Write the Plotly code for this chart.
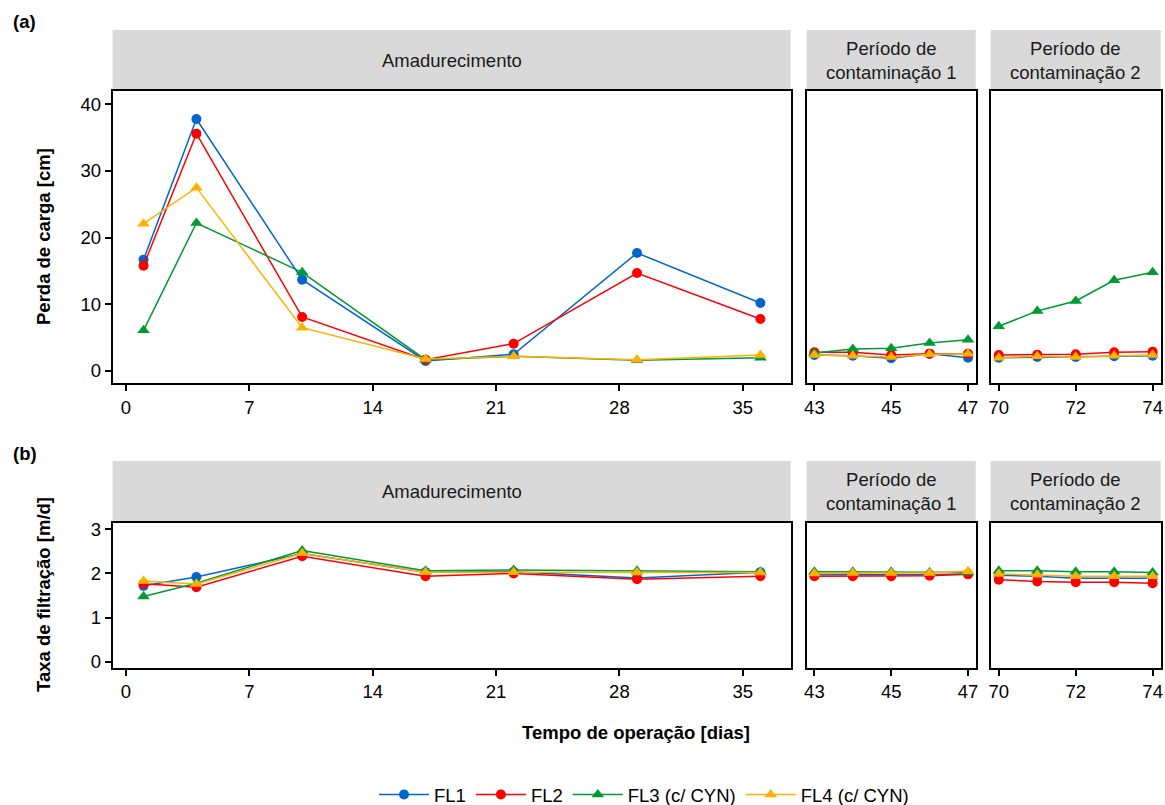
import plotly.graph_objects as go

# Operating days per period
days = [1, 4, 10, 17, 22, 29, 36, 43, 44, 45, 46, 47, 70, 71, 72, 73, 74]

# (a) Head loss [cm]
hl_fl1 = [16.7, 37.8, 13.7, 1.5, 2.5, 17.7, 10.2, 2.4, 2.3, 1.9, 2.6, 2.0, 2.0, 2.1, 2.1, 2.2, 2.3]
hl_fl2 = [15.8, 35.6, 8.1, 1.7, 4.1, 14.7, 7.8, 2.8, 2.8, 2.4, 2.6, 2.6, 2.4, 2.45, 2.5, 2.8, 2.9]
hl_fl3 = [6.1, 22.2, 14.8, 1.7, 2.2, 1.6, 2.0, 2.7, 3.3, 3.4, 4.2, 4.7, 6.7, 9.0, 10.5, 13.6, 14.8]
hl_fl4 = [22.1, 27.5, 6.5, 1.8, 2.2, 1.7, 2.4, 2.4, 2.3, 2.1, 2.5, 2.6, 2.0, 2.2, 2.1, 2.3, 2.4]

# (b) Filtration rate [m/d]
fr_fl1 = [1.72, 1.92, 2.45, 2.03, 2.04, 1.90, 2.03, 1.97, 1.97, 1.97, 1.97, 1.99, 1.96, 1.94, 1.89, 1.89, 1.89]
fr_fl2 = [1.77, 1.69, 2.39, 1.94, 2.00, 1.87, 1.94, 1.94, 1.94, 1.94, 1.95, 1.98, 1.86, 1.82, 1.80, 1.80, 1.78]
fr_fl3 = [1.48, 1.78, 2.52, 2.06, 2.08, 2.06, 2.04, 2.04, 2.04, 2.04, 2.03, 2.02, 2.06, 2.06, 2.04, 2.04, 2.02]
fr_fl4 = [1.83, 1.76, 2.46, 2.03, 2.03, 2.02, 2.02, 2.00, 2.01, 2.01, 2.01, 2.05, 1.99, 1.97, 1.94, 1.94, 1.94]

series_names = ["FL1", "FL2", "FL3 (c/ CYN)", "FL4 (c/ CYN)"]
series_colors = ["#0066CC", "#FF0000", "#009933", "#FFB000"]
series_symbols = ["circle", "circle", "triangle-up", "triangle-up"]

period_labels = ["Amadurecimento", "Período de<br>contaminação 1", "Período de<br>contaminação 2"]
period_bounds = [(0, 40), (40, 60), (60, 80)]
x_ranges = [[-0.75, 37.72], [42.8, 47.2], [69.79, 74.21]]
x_ticks = [[0, 7, 14, 21, 28, 35], [43, 45, 47], [70, 72, 74]]

W, H = 1165, 805


def px_x(p):
    return p / W


def px_y(p):
    return 1 - p / H


# pixel geometry of panels
col_px = [(112.7, 790.7), (806.7, 975.7), (990.7, 1160.7)]
row_px = [(91, 383.3), (522.7, 668)]
strip_px = [(30, 91), (461, 522.7)]
y_ranges = [[-1.85, 42], [-0.14, 3.15]]
y_ticks = [[0, 10, 20, 30, 40], [0, 1, 2, 3]]

FONT = "Liberation Sans, Arial, sans-serif"
FS = 18.5
fig = go.Figure()

rows_data = [[hl_fl1, hl_fl2, hl_fl3, hl_fl4], [fr_fl1, fr_fl2, fr_fl3, fr_fl4]]
layout = {}
shapes = []
annotations = []

for r in range(2):
    for c in range(3):
        idx = r * 3 + c + 1
        suffix = "" if idx == 1 else str(idx)
        lo, hi = period_bounds[c]
        sel = [i for i, d in enumerate(days) if lo <= d < hi]
        for s in range(4):
            vals = rows_data[r][s]
            fig.add_trace(go.Scatter(
                x=[days[i] for i in sel],
                y=[vals[i] for i in sel],
                mode="lines+markers",
                name=series_names[s],
                legendgroup=series_names[s],
                showlegend=(idx == 1),
                line=dict(color=series_colors[s], width=1.5),
                marker=dict(symbol=series_symbols[s], color=series_colors[s],
                            size=10 if s < 2 else 11),
                xaxis="x" + suffix, yaxis="y" + suffix,
            ))
        x0, x1 = col_px[c]
        y0, y1 = row_px[r]
        layout["xaxis" + suffix] = dict(
            domain=[px_x(x0), px_x(x1)], anchor="y" + suffix, range=x_ranges[c],
            tickvals=x_ticks[c], ticks="outside", ticklen=6, tickwidth=1.5,
            tickcolor="black", showline=True, linewidth=2, linecolor="black",
            mirror=True, showgrid=False, zeroline=False, automargin=False,
            tickfont=dict(size=FS, color="black", family=FONT),
        )
        layout["yaxis" + suffix] = dict(
            domain=[px_y(y1), px_y(y0)], anchor="x" + suffix, range=y_ranges[r],
            tickvals=y_ticks[r], ticks="outside" if c == 0 else "", ticklen=6,
            tickwidth=1.5, tickcolor="black", showticklabels=(c == 0),
            showline=True, linewidth=2, linecolor="black", mirror=True,
            showgrid=False, zeroline=False, automargin=False,
            tickfont=dict(size=FS, color="black", family=FONT),
        )
        # gray strip with period label
        s0, s1 = strip_px[r]
        shapes.append(dict(type="rect", xref="paper", yref="paper",
                           x0=px_x(x0), x1=px_x(x1), y0=px_y(s1), y1=px_y(s0),
                           fillcolor="#D9D9D9", line=dict(width=0), layer="below"))
        annotations.append(dict(text=period_labels[c], xref="paper", yref="paper",
                                x=px_x((x0 + x1) / 2), y=px_y((s0 + s1) / 2),
                                showarrow=False, xanchor="center", yanchor="middle",
                                font=dict(size=FS, color="#1A1A1A", family=FONT)))

annotations += [
    dict(text="<b>(a)</b>", xref="paper", yref="paper", x=px_x(11), y=px_y(22),
         xanchor="left", yanchor="middle", showarrow=False,
         font=dict(size=FS, color="black", family=FONT)),
    dict(text="<b>(b)</b>", xref="paper", yref="paper", x=px_x(11), y=px_y(453),
         xanchor="left", yanchor="middle", showarrow=False,
         font=dict(size=FS, color="black", family=FONT)),
    dict(text="<b>Perda de carga [cm]</b>", xref="paper", yref="paper",
         x=px_x(43), y=px_y(237), textangle=-90, showarrow=False,
         xanchor="center", yanchor="middle",
         font=dict(size=FS, color="black", family=FONT)),
    dict(text="<b>Taxa de filtração [m/d]</b>", xref="paper", yref="paper",
         x=px_x(43), y=px_y(595), textangle=-90, showarrow=False,
         xanchor="center", yanchor="middle",
         font=dict(size=FS, color="black", family=FONT)),
    dict(text="<b>Tempo de operação [dias]</b>", xref="paper", yref="paper",
         x=px_x(636), y=px_y(732), showarrow=False,
         xanchor="center", yanchor="middle",
         font=dict(size=FS, color="black", family=FONT)),
]

fig.update_layout(
    **layout,
    width=W, height=H,
    margin=dict(l=0, r=0, t=0, b=0, autoexpand=False),
    plot_bgcolor="white", paper_bgcolor="white",
    shapes=shapes, annotations=annotations,
    showlegend=True,
    legend=dict(orientation="h", x=px_x(644), y=px_y(795), xanchor="center",
                yanchor="middle", font=dict(size=FS, color="black", family=FONT),
                itemwidth=50, bgcolor="rgba(0,0,0,0)"),
    font=dict(family=FONT, color="black"),
)

# drop the default page margin so the figure sits at the window's top-left corner
fig.write_html("out.html",
               config={"displayModeBar": False},
               post_script="document.body.style.margin='0';"
                           "document.body.style.overflow='hidden';")
